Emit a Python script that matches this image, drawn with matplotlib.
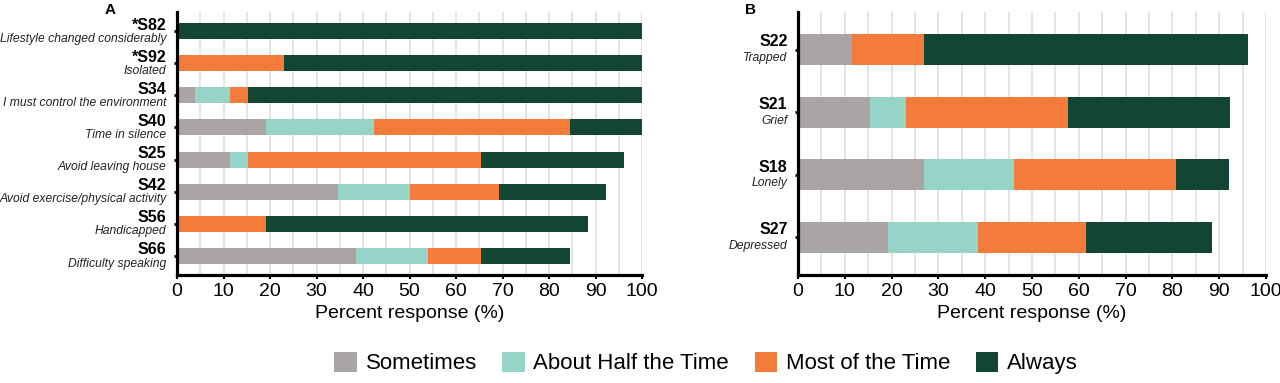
import matplotlib
matplotlib.use("Agg")
import matplotlib.pyplot as plt
from matplotlib.patches import Patch
import numpy as np

plt.rcParams['font.family'] = ['Liberation Sans', 'DejaVu Sans']

# ---------------- data ----------------
categories = ["Sometimes", "About Half the Time", "Most of the Time", "Always"]
colors = ["#a9a5a4", "#95d4c7", "#f47c3b", "#124533"]

a_codes = ["*S82", "*S92", "S34", "S40", "S25", "S42", "S56", "S66"]
a_desc = ["Lifestyle changed considerably", "Isolated", "I must control the environment",
          "Time in silence", "Avoid leaving house", "Avoid exercise/physical activity",
          "Handicapped", "Difficulty speaking"]
a_sometimes = [0, 0, 3.8, 19.2, 11.5, 34.6, 0, 38.5]
a_half = [0, 0, 7.7, 23.1, 3.8, 15.4, 0, 15.4]
a_most = [0, 23.1, 3.8, 42.3, 50.0, 19.2, 19.2, 11.5]
a_always = [100, 76.9, 84.6, 15.4, 30.8, 23.1, 69.2, 19.2]

b_codes = ["S22", "S21", "S18", "S27"]
b_desc = ["Trapped", "Grief", "Lonely", "Depressed"]
b_sometimes = [11.5, 15.4, 26.9, 19.2]
b_half = [0, 7.7, 19.2, 19.2]
b_most = [15.4, 34.6, 34.6, 23.1]
b_always = [69.2, 34.6, 11.5, 26.9]

xticks = list(range(0, 101, 10))
xlabel = "Percent response (%)"

# ---------------- figure ----------------
fig = plt.figure(figsize=(12.8, 3.83), dpi=100)
axA = fig.add_axes([177/1280, 108/383, 465/1280, 263/383])
axB = fig.add_axes([798/1280, 108/383, 468/1280, 263/383])


def draw(ax, codes, descs, series, code_dy, desc_dy):
    n = len(codes)
    y = np.arange(n)
    left = np.zeros(n)
    for vals, c in zip(series, colors):
        vals = np.array(vals, dtype=float)
        ax.barh(y, vals, left=left, height=0.5, color=c, edgecolor='none', zorder=2)
        left += vals
    ax.set_xlim(0, 100)
    ax.set_ylim(n - 0.4, -0.6)
    ax.set_xticks(xticks)
    ax.set_xticks(range(5, 100, 10), minor=True)
    ax.tick_params(axis='x', which='major', labelsize=14, length=3, width=1.5,
                   pad=3, colors='black')
    ax.tick_params(axis='x', which='minor', length=0)
    ax.set_yticks(y)
    ax.set_yticklabels([])
    ax.tick_params(axis='y', length=2, width=2)
    ax.grid(axis='x', which='both', color='#e4e4e4', lw=1.4, zorder=0)
    ax.set_axisbelow(True)
    for s in ['top', 'right']:
        ax.spines[s].set_visible(False)
    for s in ['left', 'bottom']:
        ax.spines[s].set_linewidth(2.3)
        ax.spines[s].set_color('black')
    ax.set_xlabel(xlabel, fontsize=14, labelpad=3)
    for yi, code, desc in zip(y, codes, descs):
        ax.annotate(code, xy=(0, yi), xycoords=('axes fraction', 'data'),
                    xytext=(-7.5, code_dy), textcoords='offset points',
                    ha='right', va='center', fontsize=11.5, fontweight='bold')
        ax.annotate(desc, xy=(0, yi), xycoords=('axes fraction', 'data'),
                    xytext=(-7.5, desc_dy), textcoords='offset points',
                    ha='right', va='center', fontsize=8.7, fontstyle='italic',
                    color='#222222')


draw(axA, a_codes, a_desc, [a_sometimes, a_half, a_most, a_always], 4.2, -5.6)
draw(axB, b_codes, b_desc, [b_sometimes, b_half, b_most, b_always], 5.6, -6.0)

fig.text(110/1280, 1 - 10/383, "A", fontsize=11, fontweight='bold', ha='center', va='center')
fig.text(750/1280, 1 - 10/383, "B", fontsize=11, fontweight='bold', ha='center', va='center')

handles = [Patch(facecolor=c, edgecolor='none', label=l) for c, l in zip(colors, categories)]
fig.legend(handles=handles, loc='center', bbox_to_anchor=(706/1280, 1 - 363/383),
           ncol=4, frameon=False, fontsize=16, handlelength=1.0, handleheight=1.0,
           handletextpad=0.4, columnspacing=1.15, borderpad=0, borderaxespad=0)

fig.savefig("out.png", dpi=100)
